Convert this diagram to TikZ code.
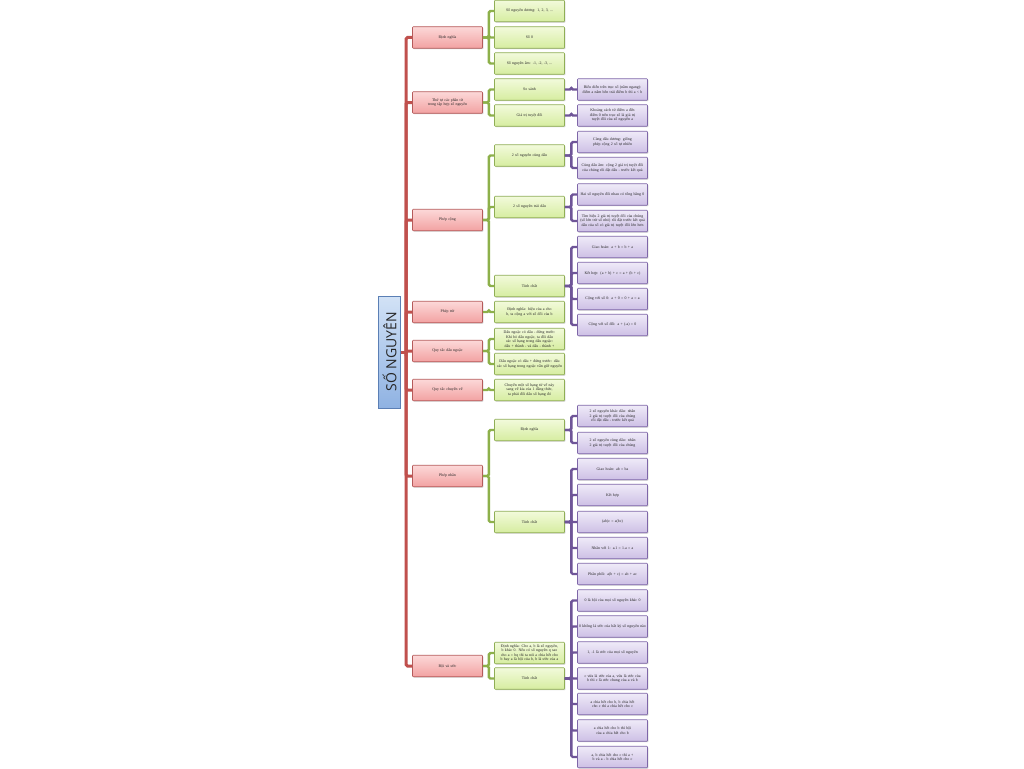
\documentclass[tikz,border=0pt]{standalone}
\usepackage{fontspec}
\setmainfont{Liberation Serif}
\newfontfamily\rootfont{Open Sans}
\usetikzlibrary{shadows}
\definecolor{redLine}{HTML}{C0504D}
\definecolor{redBorder}{HTML}{B55A5A}
\definecolor{redTop}{HTML}{FCD8D8}
\definecolor{redBot}{HTML}{F2A2A2}
\definecolor{grnLine}{HTML}{8DB04A}
\definecolor{grnBorder}{HTML}{8FAE55}
\definecolor{grnTop}{HTML}{F2FADB}
\definecolor{grnBot}{HTML}{D6EDA0}
\definecolor{purLine}{HTML}{6F5598}
\definecolor{purBorder}{HTML}{7E66A8}
\definecolor{purTop}{HTML}{EFEAF8}
\definecolor{purBot}{HTML}{CDC0E5}
\definecolor{bluTop}{HTML}{D2E2F6}
\definecolor{bluBot}{HTML}{8FB2E2}
\definecolor{bluBorder}{HTML}{5B7FB5}
\tikzset{
  boxbase/.style={rectangle, draw, rounded corners=0.8pt, line width=0.6pt,
    minimum width=70pt, minimum height=21.5pt, text width=67pt, align=center,
    inner sep=0.8pt, font=\fontsize{3.9}{4.5}\selectfont, text=black!85,
    drop shadow={shadow xshift=0.9pt, shadow yshift=-0.9pt, opacity=0.4}},
  redbox/.style={boxbase, draw=redBorder, top color=redTop, bottom color=redBot},
  grnbox/.style={boxbase, draw=grnBorder, top color=grnTop, bottom color=grnBot},
  purbox/.style={boxbase, draw=purBorder, top color=purTop, bottom color=purBot},
  rootbox/.style={rectangle, draw=bluBorder, line width=0.6pt, rotate=90,
    minimum width=112pt, minimum height=22pt, inner sep=0pt,
    top color=bluTop, bottom color=bluBot,
    font=\rootfont\fontsize{14}{14}\selectfont, text=black!85,
    drop shadow={shadow xshift=0.9pt, shadow yshift=-0.9pt, opacity=0.4}},
  redline/.style={draw=redLine, line width=3pt, rounded corners=1.5pt},
  grnline/.style={draw=grnLine, line width=2.4pt, rounded corners=1.5pt},
  purline/.style={draw=purLine, line width=2.4pt, rounded corners=1.5pt},
}
\begin{document}
\begin{tikzpicture}[x=1pt,y=-1pt]
\useasboundingbox (0,0) rectangle (1024,768);
\fill[white] (0,0) rectangle (1024,768);

% root
\node[rootbox] (root) at (389.5,352) {SỐ NGUYÊN};
\coordinate (trunk) at (406,352);

% level 1
\node[redbox] (r1) at (447.5,37.5) {Định nghĩa};
\node[redbox] (r2) at (447.5,102.5) {Thứ tự các phần tử trong tập hợp số nguyên};
\node[redbox] (r3) at (447.5,220) {Phép cộng};
\node[redbox] (r4) at (447.5,312) {Phép trừ};
\node[redbox] (r5) at (447.5,351) {Quy tắc dấu ngoặc};
\node[redbox] (r6) at (447.5,390) {Quy tắc chuyển vế};
\node[redbox] (r7) at (447.5,476) {Phép nhân};
\node[redbox] (r8) at (447.5,666) {Bội và ước};

% level 2
\node[grnbox] (g11) at (529.5,11) {Số nguyên dương: 1, 2, 3, ...};
\node[grnbox] (g12) at (529.5,37.5) {Số 0};
\node[grnbox] (g13) at (529.5,63.5) {Số nguyên âm: -1, -2, -3, ...};
\node[grnbox] (g21) at (529.5,89.5) {So sánh};
\node[grnbox] (g22) at (529.5,115.5) {Giá trị tuyệt đối};
\node[grnbox] (g31) at (529.5,155.5) {2 số nguyên cùng dấu};
\node[grnbox] (g32) at (529.5,207) {2 số nguyên trái dấu};
\node[grnbox] (g33) at (529.5,286) {Tính chất};
\node[grnbox] (g41) at (529.5,312) {Định nghĩa: hiệu của a cho b, ta cộng a với số đối của b};
\node[grnbox] (g51) at (529.5,339) {Dấu ngoặc có dấu - đứng trước: Khi bỏ dấu ngoặc, ta đổi dấu các số hạng trong dấu ngoặc: dấu + thành - và dấu - thành +};
\node[grnbox] (g52) at (529.5,364) {Dấu ngoặc có dấu + đứng trước: dấu các số hạng trong ngoặc vẫn giữ nguyên};
\node[grnbox] (g61) at (529.5,390) {Chuyển một số hạng từ vế này sang vế kia của 1 đẳng thức, ta phải đổi dấu số hạng đó};
\node[grnbox] (g71) at (529.5,430) {Định nghĩa};
\node[grnbox] (g72) at (529.5,522) {Tính chất};
\node[grnbox] (g81) at (529.5,653) {Định nghĩa: Cho a, b là số nguyên, b khác 0. Nếu có số nguyên q sao cho a = bq thì ta nói a chia hết cho b hay a là bội của b, b là ước của a};
\node[grnbox] (g82) at (529.5,678.5) {Tính chất};

% level 3
\node[purbox] (p211) at (612.5,89.5) {Biểu diễn trên trục số (nằm ngang): điểm a nằm bên trái điểm b thì a < b};
\node[purbox] (p221) at (612.5,115.5) {Khoảng cách từ điểm a đến điểm 0 trên trục số là giá trị tuyệt đối của số nguyên a};
\node[purbox] (p311) at (612.5,142) {Cùng dấu dương: giống phép cộng 2 số tự nhiên};
\node[purbox] (p312) at (612.5,168) {Cùng dấu âm: cộng 2 giá trị tuyệt đối của chúng rồi đặt dấu - trước kết quả};
\node[purbox] (p321) at (612.5,194.5) {Hai số nguyên đối nhau có tổng bằng 0};
\node[purbox] (p322) at (612.5,221) {Tìm hiệu 2 giá trị tuyệt đối của chúng (số lớn trừ số nhỏ) rồi đặt trước kết quả dấu của số có giá trị tuyệt đối lớn hơn};
\node[purbox] (p331) at (612.5,247) {Giao hoán: a + b = b + a};
\node[purbox] (p332) at (612.5,273) {Kết hợp: (a + b) + c = a + (b + c)};
\node[purbox] (p333) at (612.5,299) {Cộng với số 0: a + 0 = 0 + a = a};
\node[purbox] (p334) at (612.5,325) {Cộng với số đối: a + (-a) = 0};
\node[purbox] (p711) at (612.5,416) {2 số nguyên khác dấu: nhân 2 giá trị tuyệt đối của chúng rồi đặt dấu - trước kết quả};
\node[purbox] (p712) at (612.5,443) {2 số nguyên cùng dấu: nhân 2 giá trị tuyệt đối của chúng};
\node[purbox] (p721) at (612.5,469) {Giao hoán: ab = ba};
\node[purbox] (p722) at (612.5,495) {Kết hợp};
\node[purbox] (p723) at (612.5,522) {(ab)c = a(bc)};
\node[purbox] (p724) at (612.5,548) {Nhân với 1: a.1 = 1.a = a};
\node[purbox] (p725) at (612.5,574) {Phân phối: a(b + c) = ab + ac};
\node[purbox] (p821) at (612.5,600.5) {0 là bội của mọi số nguyên khác 0};
\node[purbox] (p822) at (612.5,626.5) {0 không là ước của bất kỳ số nguyên nào};
\node[purbox] (p823) at (612.5,652.5) {1, -1 là ước của mọi số nguyên};
\node[purbox] (p824) at (612.5,678.5) {c vừa là ước của a, vừa là ước của b thì c là ước chung của a và b};
\node[purbox] (p825) at (612.5,704) {a chia hết cho b, b chia hết cho c thì a chia hết cho c};
\node[purbox] (p826) at (612.5,730.5) {a chia hết cho b thì bội của a chia hết cho b};
\node[purbox] (p827) at (612.5,757) {a, b chia hết cho c thì a + b và a - b chia hết cho c};

% connectors: root to level 1
\draw[redline] (root.south) -- (trunk);
\foreach \n in {r1,r2,r3,r4,r5,r6,r7,r8}
  \draw[redline] (trunk) |- (\n.west);

% level 1 to level 2
\foreach \p/\c in {r1/g11,r1/g12,r1/g13,r2/g21,r2/g22,r3/g31,r3/g32,r3/g33,
  r4/g41,r5/g51,r5/g52,r6/g61,r7/g71,r7/g72,r8/g81,r8/g82}
  \draw[grnline] (\p.east) -- ++(6,0) |- (\c.west);

% level 2 to level 3
\foreach \p/\c in {g21/p211,g22/p221,g31/p311,g31/p312,g32/p321,g32/p322,
  g33/p331,g33/p332,g33/p333,g33/p334,g71/p711,g71/p712,
  g72/p721,g72/p722,g72/p723,g72/p724,g72/p725,
  g82/p821,g82/p822,g82/p823,g82/p824,g82/p825,g82/p826,g82/p827}
  \draw[purline] (\p.east) -- ++(6.5,0) |- (\c.west);
\end{tikzpicture}
\end{document}
